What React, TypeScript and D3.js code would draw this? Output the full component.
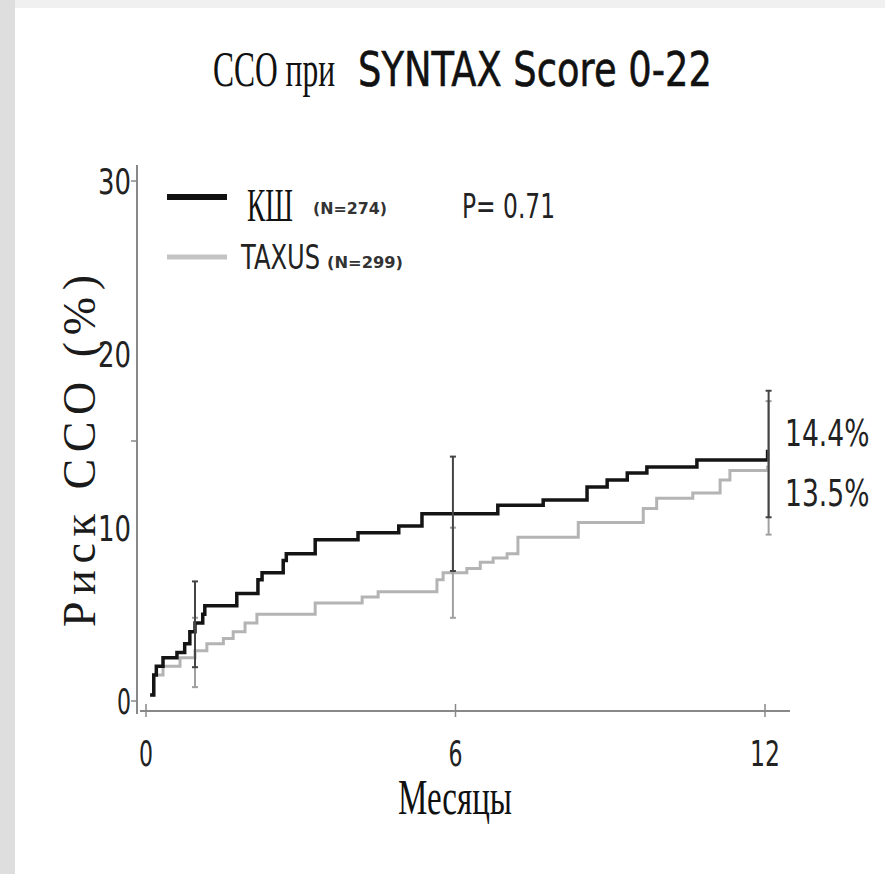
import React from 'react';
import * as d3 from 'd3';

// KM step points (months, %)
const cabgMonths = [0.08, 0.15, 0.2, 0.33, 0.6, 0.75, 0.85, 0.95, 1.1, 1.14, 1.76, 2.17, 2.25, 2.66, 2.72, 3.28, 4.11, 4.9, 5.35, 6.82, 7.7, 8.55, 8.94, 9.33, 9.71, 10.68, 12.05, 12.07];
const cabgRisk = [0.35, 1.5, 2.0, 2.5, 2.8, 3.3, 4.0, 4.5, 5.0, 5.5, 6.2, 7.0, 7.4, 8.1, 8.5, 9.3, 9.7, 10.1, 10.8, 11.3, 11.6, 12.35, 12.75, 13.15, 13.5, 13.9, 14.4, 14.4];

const taxusMonths = [0.08, 0.15, 0.33, 0.66, 0.95, 1.18, 1.5, 1.69, 1.92, 2.15, 3.28, 4.19, 4.5, 5.64, 5.76, 6.22, 6.48, 6.73, 7.0, 7.21, 8.38, 9.64, 9.9, 10.6, 11.13, 11.32, 12.05, 12.07];
const taxusRisk = [0.35, 1.5, 2.0, 2.5, 2.9, 3.3, 3.6, 4.0, 4.5, 5.0, 5.65, 6.0, 6.3, 7.0, 7.4, 7.65, 8.0, 8.25, 8.5, 9.45, 10.3, 11.1, 11.7, 12.0, 12.75, 13.3, 13.5, 13.5];

// confidence bars
const ciMonths = [0.95, 5.95, 12.07];
const cabgLow = [1.95, 7.5, 10.6];
const cabgHigh = [6.9, 14.1, 17.9];
const taxusLow = [0.8, 4.8, 9.6];
const taxusHigh = [4.8, 10.0, 17.3];

const xTicks = [0, 6, 12];
const yTicks = [0, 10, 20, 30];
const yMinorTicks = [0, 15, 30];
const endLabels = ['14.4%', '13.5%'];

export default function App() {
  const x = d3.scaleLinear().domain([0, 12]).range([146, 765]);
  const y = d3.scaleLinear().domain([0, 30]).range([701, 181]);

  const line = d3.line<[number, number]>()
    .x(d => x(d[0]))
    .y(d => y(d[1]))
    .curve(d3.curveStepAfter);

  const cabg = cabgMonths.map((m, i) => [m, cabgRisk[i]] as [number, number]);
  const taxus = taxusMonths.map((m, i) => [m, taxusRisk[i]] as [number, number]);

  const sans = 'DejaVu Sans, sans-serif';
  const serif = 'Liberation Serif, serif';

  const bar = (m: number, lo: number, hi: number, color: string, key: string) => (
    <g key={key} stroke={color} strokeWidth={2}>
      <line x1={x(m)} x2={x(m)} y1={y(lo)} y2={y(hi)} />
      <line x1={x(m) - 3} x2={x(m) + 3} y1={y(lo)} y2={y(lo)} />
      <line x1={x(m) - 3} x2={x(m) + 3} y1={y(hi)} y2={y(hi)} />
    </g>
  );

  return (
    <svg width={885} height={874} style={{ position: 'absolute', left: 0, top: 0 }}>
      <rect x={0} y={0} width={885} height={874} fill="#f0f0f0" />
      <rect x={0} y={0} width={15} height={874} fill="#dedede" />
      <rect x={15} y={8} width={870} height={866} fill="#ffffff" />

      {/* title */}
      <text x={213} y={86} fontFamily={serif} fontSize={50} textLength={122} lengthAdjust="spacingAndGlyphs" fill="#111">ССО при</text>
      <text x={358} y={86} fontFamily={sans} fontSize={48} textLength={354} lengthAdjust="spacingAndGlyphs" fill="#111"
        stroke="#111" strokeWidth={0.6}>SYNTAX Score 0-22</text>

      {/* axes */}
      <line x1={137} x2={137} y1={165} y2={714} stroke="#888" strokeWidth={2} />
      <line x1={140} x2={790} y1={711} y2={711} stroke="#888" strokeWidth={2} />
      {yMinorTicks.map(t => (
        <line key={'yt' + t} x1={131} x2={137} y1={y(t)} y2={y(t)} stroke="#888" strokeWidth={1.5} />
      ))}
      {xTicks.map(t => (
        <line key={'xt' + t} x1={x(t)} x2={x(t)} y1={704} y2={717} stroke="#888" strokeWidth={1.5} />
      ))}
      {yTicks.map(t => (
        <text key={'yl' + t} x={131} y={y(t) + 13} textAnchor="end" fontFamily={sans} fontSize={36}
          textLength={t === 0 ? 14 : 33} lengthAdjust="spacingAndGlyphs" fill="#222">{t}</text>
      ))}
      {xTicks.map(t => (
        <text key={'xl' + t} x={x(t)} y={766} textAnchor="middle" fontFamily={sans} fontSize={36}
          textLength={t >= 10 ? 30 : 14} lengthAdjust="spacingAndGlyphs" fill="#222">{t}</text>
      ))}

      {/* axis titles */}
      <text x={455} y={814} textAnchor="middle" fontFamily={serif} fontSize={50} textLength={114} lengthAdjust="spacingAndGlyphs" fill="#111">Месяцы</text>
      <text transform="translate(95,451) rotate(-90)" textAnchor="middle" fontFamily={serif} fontSize={46}
        textLength={352} lengthAdjust="spacing" fill="#1a1a1a">Риск ССО (%)</text>

      {/* curves */}
      <path d={line(taxus) ?? ''} fill="none" stroke="#b4b4b4" strokeWidth={3} />
      <path d={line(cabg) ?? ''} fill="none" stroke="#141414" strokeWidth={3.5} />

      {/* CI bars */}
      {ciMonths.map((m, i) => bar(m, taxusLow[i], taxusHigh[i], '#a0a0a0', 'tb' + i))}
      {ciMonths.map((m, i) => bar(m, cabgLow[i], cabgHigh[i], '#444', 'cb' + i))}

      {/* end labels */}
      {endLabels.map((s, i) => (
        <text key={s} transform={`translate(785,${446 + i * 60}) scale(0.7,1)`} fontFamily={sans} fontSize={38} fill="#222">{s}</text>
      ))}

      {/* legend */}
      <line x1={167} x2={227} y1={197} y2={197} stroke="#111" strokeWidth={6} />
      <text x={247} y={221} fontFamily={serif} fontSize={46} textLength={46} lengthAdjust="spacingAndGlyphs" fill="#111">КШ</text>
      <text x={313} y={214} fontFamily={sans} fontWeight="bold" fontSize={16} textLength={74} lengthAdjust="spacingAndGlyphs" fill="#333">(N=274)</text>
      <text x={462} y={218} fontFamily={sans} fontSize={34} textLength={93} lengthAdjust="spacingAndGlyphs" fill="#222">P= 0.71</text>
      <line x1={167} x2={227} y1={257} y2={257} stroke="#c4c4c4" strokeWidth={5} />
      <text x={241} y={269} fontFamily={sans} fontSize={33} textLength={79} lengthAdjust="spacingAndGlyphs" fill="#222">TAXUS</text>
      <text x={327} y={268} fontFamily={sans} fontWeight="bold" fontSize={16} textLength={76} lengthAdjust="spacingAndGlyphs" fill="#333">(N=299)</text>
    </svg>
  );
}
